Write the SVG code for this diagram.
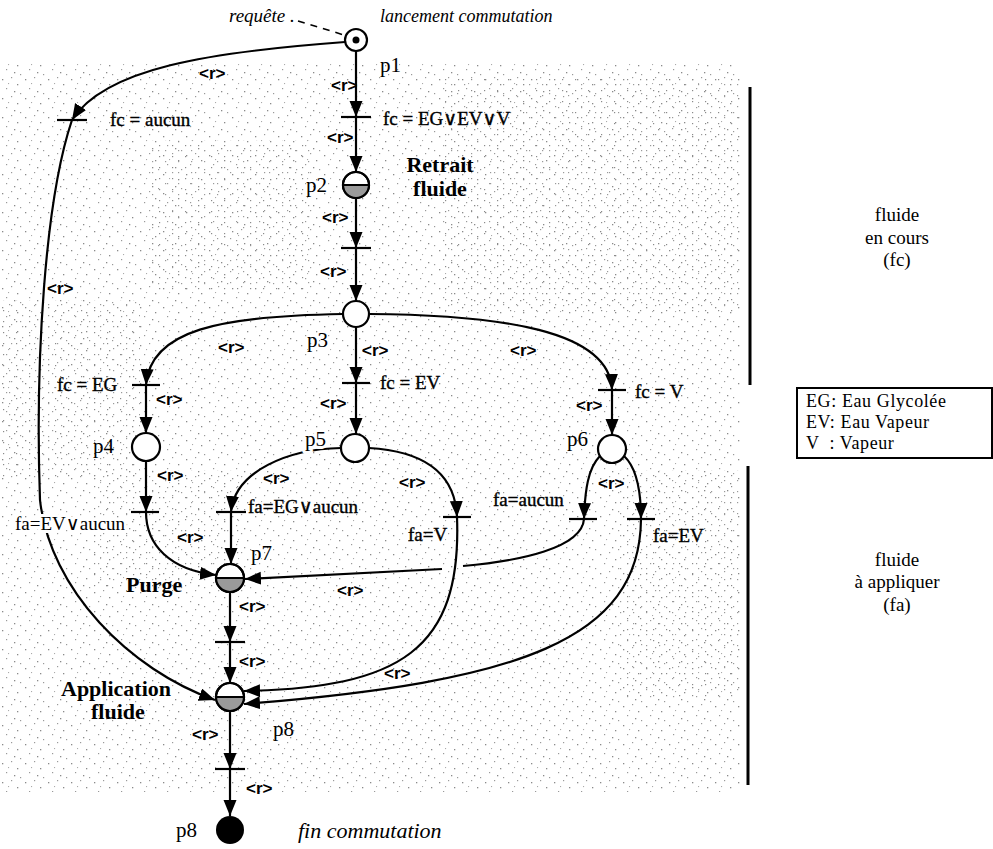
<svg xmlns="http://www.w3.org/2000/svg" width="993" height="849" viewBox="0 0 993 849">
<defs>
<style>
.ln{fill:none;stroke:#000;stroke-width:2.2}
.ar{marker-end:url(#ah)}
.bar{stroke:#000;stroke-width:2.2}
.pl{fill:#fff;stroke:#000;stroke-width:2.2}
.sh{fill:#9a9a9a}
.r{font-family:"Liberation Sans",Arial,sans-serif;font-weight:bold;font-size:17px;fill:#000}
.c{font-family:"Liberation Serif","DejaVu Serif",serif;font-size:19px;fill:#000;stroke:#000;stroke-width:0.35}
.p{font-family:"Liberation Serif",serif;font-size:21px;fill:#000}
.b{font-family:"Liberation Serif",serif;font-weight:bold;font-size:22px;fill:#000}
.i{font-family:"Liberation Serif",serif;font-style:italic;fill:#000}
.t{font-family:"Liberation Serif",serif;font-size:19px;fill:#000}
.lg{font-family:"Liberation Serif",serif;font-size:18px;letter-spacing:0.6px;fill:#000}
.halo{paint-order:stroke;stroke:#fff;stroke-width:6;stroke-linejoin:round}
</style>
<marker id="ah" markerUnits="userSpaceOnUse" markerWidth="17" markerHeight="14" refX="16" refY="6.5" orient="auto">
<path d="M0,0 L16,6.5 L0,13 z" fill="#000"/>
</marker>
<pattern id="speck" width="23" height="19" patternUnits="userSpaceOnUse">
<rect x="2" y="3" width="1.3" height="1.3" fill="#8a8a8a"/>
<rect x="11" y="1" width="1.2" height="1.2" fill="#9a9a9a"/>
<rect x="17" y="8" width="1.3" height="1.3" fill="#8a8a8a"/>
<rect x="6" y="12" width="1.2" height="1.2" fill="#999"/>
<rect x="14" y="15" width="1.3" height="1.3" fill="#8a8a8a"/>
<rect x="20" y="17" width="1.2" height="1.2" fill="#999"/>
<rect x="8" y="7" width="1.1" height="1.1" fill="#aaa"/>
</pattern>
<pattern id="speck2" width="13" height="11" patternUnits="userSpaceOnUse">
<rect x="3" y="2" width="1.2" height="1.2" fill="#8a8a8a"/>
<rect x="9" y="7" width="1.2" height="1.2" fill="#999"/>
</pattern>
</defs>

<rect width="993" height="849" fill="#fff"/>
<rect x="0" y="62" width="742" height="730" fill="url(#speck)"/>
<g id="texture" fill="url(#speck2)">
<rect x="440" y="75" width="300" height="240"/>
<rect x="0" y="300" width="140" height="180"/>
<rect x="150" y="140" width="160" height="150"/>
<rect x="620" y="470" width="120" height="230"/>
<rect x="90" y="470" width="150" height="120"/>
</g>

<g id="zones">
<line x1="750" y1="87" x2="750" y2="385" stroke="#000" stroke-width="3"/>
<line x1="748" y1="466" x2="748" y2="785" stroke="#000" stroke-width="3"/>
<text class="t" text-anchor="middle" x="897" y="221">fluide</text>
<text class="t" text-anchor="middle" x="897" y="244">en cours</text>
<text class="t" text-anchor="middle" x="897" y="266">(fc)</text>
<text class="t" text-anchor="middle" x="897" y="566">fluide</text>
<text class="t" text-anchor="middle" x="897" y="588">à appliquer</text>
<text class="t" text-anchor="middle" x="897" y="611">(fa)</text>
</g>

<g id="legend">
<rect x="797" y="388" width="195" height="70" fill="#fff" stroke="#000" stroke-width="2"/>
<text class="lg" x="806" y="407">EG: Eau Glycolée</text>
<text class="lg" x="806" y="428">EV: Eau Vapeur</text>
<text class="lg" x="806" y="449" xml:space="preserve">V  : Vapeur</text>
</g>

<g id="connectors">
<line x1="298" y1="21" x2="344" y2="35" stroke="#000" stroke-width="1.6" stroke-dasharray="7,6"/>
<path class="ln ar" d="M356,51 L356,117"/>
<path class="ln ar" d="M356,117 L356,172"/>
<path class="ln ar" d="M356,199 L356,248"/>
<path class="ln ar" d="M356,248 L356,301"/>
<path class="ln ar" d="M345,42 C210,52 105,68 72,120"/>
<path class="ln ar" d="M72,120 C45,200 35,360 40,500 C50,590 130,670 215,700"/>
<path class="ln ar" d="M343,314 C220,316 150,330 146,385"/>
<path class="ln ar" d="M146,385 L146,433"/>
<path class="ln ar" d="M356,327 L356,383"/>
<path class="ln ar" d="M356,383 L356,434"/>
<path class="ln ar" d="M369,314 C500,315 610,330 612,390"/>
<path class="ln ar" d="M612,390 L612,435"/>
<path class="ln ar" d="M146,461 L146,512"/>
<path class="ln ar" d="M146,512 C146,545 170,570 216,575"/>
<path class="ln ar" d="M341,448 C290,449 235,470 231,512"/>
<path class="ln ar" d="M231,512 L231,564"/>
<path class="ln ar" d="M369,448 C420,451 455,470 457,517"/>
<path class="ln ar" d="M457,517 C462,650 400,688 244,691"/>
<path class="ln ar" d="M600,456 C588,468 585,490 584,519"/>
<path class="ln ar" d="M624,456 C637,468 641,490 641,519"/>
<path class="ln" d="M584,519 C582,548 520,561 463,566"/>
<path class="ln ar" d="M442,569 L245,579"/>
<path class="ln ar" d="M641,519 C640,640 520,682 244,704"/>
<path class="ln ar" d="M230,592 L230,642"/>
<path class="ln ar" d="M230,642 L230,683"/>
<path class="ln ar" d="M230,711 L230,769"/>
<path class="ln ar" d="M230,769 L230,816"/>
</g>

<g id="transitions">
<line class="bar" x1="57" y1="120" x2="87" y2="120"/>
<line class="bar" x1="341" y1="117" x2="371" y2="117"/>
<line class="bar" x1="341" y1="248" x2="371" y2="248"/>
<line class="bar" x1="132" y1="385" x2="160" y2="385"/>
<line class="bar" x1="342" y1="383" x2="370" y2="383"/>
<line class="bar" x1="598" y1="390" x2="626" y2="390"/>
<line class="bar" x1="131" y1="512" x2="159" y2="512"/>
<line class="bar" x1="216" y1="512" x2="246" y2="512"/>
<line class="bar" x1="443" y1="517" x2="471" y2="517"/>
<line class="bar" x1="569" y1="519" x2="597" y2="519"/>
<line class="bar" x1="627" y1="519" x2="655" y2="519"/>
<line class="bar" x1="215" y1="642" x2="245" y2="642"/>
<line class="bar" x1="215" y1="769" x2="245" y2="769"/>
</g>

<g id="p1">
<circle class="pl" cx="356" cy="40" r="11"/>
<circle cx="356" cy="40" r="3.5" fill="#000"/>
<text class="p" x="380" y="72">p1</text>
</g>
<g id="p2">
<circle class="pl" cx="356" cy="185" r="13"/>
<path class="sh" d="M343,185 A13,13 0 0 0 369,185 Z"/>
<line x1="343" y1="185" x2="369" y2="185" stroke="#000" stroke-width="2"/>
<circle cx="356" cy="185" r="13" fill="none" stroke="#000" stroke-width="2.2"/>
<text class="p" x="306" y="192">p2</text>
<text class="b" text-anchor="middle" x="440" y="172">Retrait</text>
<text class="b" text-anchor="middle" x="440" y="196">fluide</text>
</g>
<g id="p3">
<circle class="pl" cx="356" cy="314" r="13"/>
<text class="p" x="307" y="347">p3</text>
</g>
<g id="p4">
<circle class="pl" cx="146" cy="447" r="14"/>
<text class="p" x="93" y="453">p4</text>
</g>
<g id="p5">
<circle class="pl" cx="355" cy="448" r="14"/>
<text class="p halo" x="305" y="446">p5</text>
</g>
<g id="p6">
<circle class="pl" cx="612" cy="449" r="14"/>
<text class="p" x="567" y="446">p6</text>
</g>
<g id="p7">
<circle class="pl" cx="230" cy="578" r="14"/>
<path class="sh" d="M216,578 A14,14 0 0 0 244,578 Z"/>
<line x1="216" y1="578" x2="244" y2="578" stroke="#000" stroke-width="2"/>
<circle cx="230" cy="578" r="14" fill="none" stroke="#000" stroke-width="2.2"/>
<text class="p" x="251" y="560">p7</text>
<text class="b" x="126" y="592">Purge</text>
</g>
<g id="p8">
<circle class="pl" cx="230" cy="697" r="14"/>
<path class="sh" d="M216,697 A14,14 0 0 0 244,697 Z"/>
<line x1="216" y1="697" x2="244" y2="697" stroke="#000" stroke-width="2"/>
<circle cx="230" cy="697" r="14" fill="none" stroke="#000" stroke-width="2.2"/>
<text class="p" x="273" y="736">p8</text>
<text class="b halo" x="61" y="696">Application</text>
<text class="b" x="91" y="719">fluide</text>
</g>
<g id="p8-fin">
<circle cx="230" cy="830" r="14" fill="#000"/>
<text class="p" x="176" y="837">p8</text>
<text class="i" x="298" y="838" font-size="22">fin commutation</text>
</g>

<g id="labels">
<text class="i" x="229" y="22" font-size="19">requête .</text>
<text class="i" x="380" y="22" font-size="18">lancement commutation</text>
<text class="c" x="110" y="126">fc = aucun</text>
<text class="c" x="383" y="125">fc = EG∨EV∨V</text>
<text class="c" x="57" y="391">fc = EG</text>
<text class="c" x="380" y="389">fc = EV</text>
<text class="c" x="635" y="398">fc = V</text>
<text class="c halo" x="15" y="530">fa=EV∨aucun</text>
<text class="c" x="248" y="513">fa=EG∨aucun</text>
<text class="c" x="408" y="541">fa=V</text>
<text class="c" x="493" y="506">fa=aucun</text>
<text class="c" x="653" y="542">fa=EV</text>
<text class="r" x="199" y="79">&lt;r&gt;</text>
<text class="r" x="331" y="91">&lt;r&gt;</text>
<text class="r" x="327" y="143">&lt;r&gt;</text>
<text class="r" x="322" y="223">&lt;r&gt;</text>
<text class="r" x="320" y="277">&lt;r&gt;</text>
<text class="r" x="47" y="294">&lt;r&gt;</text>
<text class="r" x="218" y="353">&lt;r&gt;</text>
<text class="r" x="362" y="356">&lt;r&gt;</text>
<text class="r" x="510" y="356">&lt;r&gt;</text>
<text class="r" x="156" y="405">&lt;r&gt;</text>
<text class="r" x="320" y="409">&lt;r&gt;</text>
<text class="r" x="576" y="411">&lt;r&gt;</text>
<text class="r" x="157" y="481">&lt;r&gt;</text>
<text class="r" x="263" y="484">&lt;r&gt;</text>
<text class="r" x="399" y="488">&lt;r&gt;</text>
<text class="r" x="598" y="489">&lt;r&gt;</text>
<text class="r" x="177" y="543">&lt;r&gt;</text>
<text class="r" x="337" y="596">&lt;r&gt;</text>
<text class="r" x="239" y="612">&lt;r&gt;</text>
<text class="r" x="239" y="667">&lt;r&gt;</text>
<text class="r" x="384" y="679">&lt;r&gt;</text>
<text class="r" x="192" y="740">&lt;r&gt;</text>
<text class="r" x="246" y="794">&lt;r&gt;</text>
</g>
</svg>
